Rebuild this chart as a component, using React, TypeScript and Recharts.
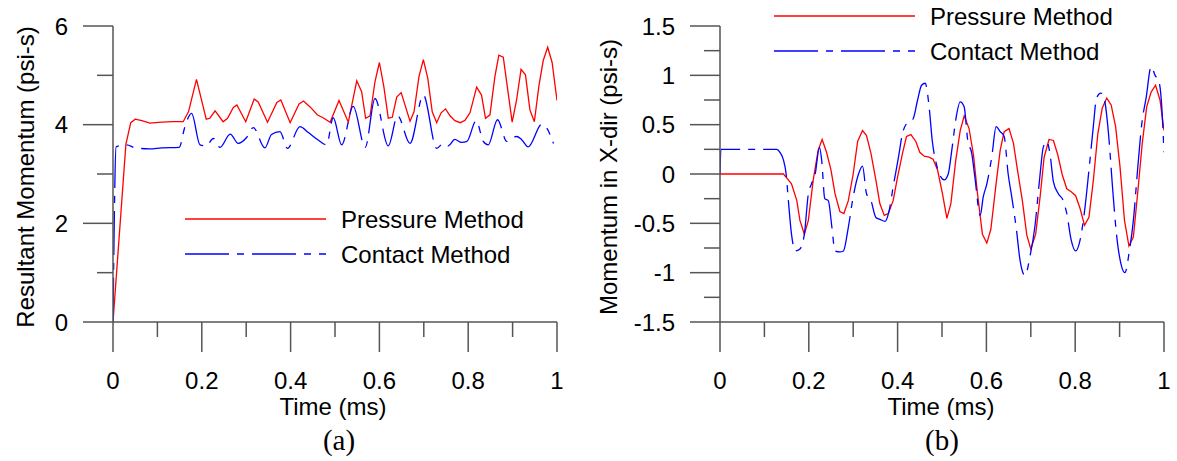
import React from "react";
import { LineChart, Line, XAxis, YAxis, Legend } from "recharts";

const FONT = "'Liberation Sans', Arial, sans-serif";
const SERIF = "'Liberation Serif', 'Times New Roman', serif";
const AXIS = "#555";
const RED = "#ff0000";
const BLUE = "#0000ff";
const DASH = "44 8 7 8";

// x ticks (ms), shared by both panels
const X_TICKS = [0, 0.1, 0.2, 0.3, 0.4, 0.5, 0.6, 0.7, 0.8, 0.9, 1];
const Y_TICKS_A = [0, 1, 2, 3, 4, 5, 6];
const Y_TICKS_B = [-1.5, -1.25, -1, -0.75, -0.5, -0.25, 0, 0.25, 0.5, 0.75, 1, 1.25, 1.5];
const SERIES_NAMES = ["Pressure Method", "Contact Method"];

// (a) resultant momentum, [t, value]
const pressureA: number[][] = [
  [0, 0], [0.029, 3.6], [0.04, 4.04], [0.05, 4.11], [0.065, 4.08], [0.083, 4.03], [0.11, 4.05], [0.135, 4.06],
  [0.158, 4.06], [0.17, 4.26], [0.188, 4.92], [0.21, 4.11], [0.218, 4.13], [0.23, 4.28], [0.248, 4.06],
  [0.258, 4.13], [0.271, 4.35], [0.279, 4.4], [0.299, 4.06], [0.318, 4.52], [0.327, 4.46], [0.348, 4.05],
  [0.369, 4.45], [0.378, 4.5], [0.399, 4.04], [0.419, 4.42], [0.429, 4.48], [0.444, 4.36], [0.46, 4.2],
  [0.475, 4.13], [0.489, 4.05], [0.509, 4.49], [0.53, 4.05], [0.549, 4.89], [0.56, 4.67], [0.569, 4.13],
  [0.579, 4.18], [0.59, 4.87], [0.6, 5.26], [0.61, 4.77], [0.62, 4.13], [0.629, 4.15], [0.639, 4.56],
  [0.649, 4.65], [0.669, 4.07], [0.678, 4.26], [0.689, 4.97], [0.699, 5.32], [0.709, 4.94], [0.719, 4.26],
  [0.729, 4.04], [0.739, 4.24], [0.749, 4.32], [0.759, 4.18], [0.77, 4.08], [0.782, 4.04], [0.793, 4.09],
  [0.804, 4.24], [0.819, 4.76], [0.83, 4.6], [0.839, 4.13], [0.849, 4.2], [0.86, 4.97], [0.869, 5.41],
  [0.879, 5.37], [0.899, 4.05], [0.909, 4.5], [0.919, 5.12], [0.929, 5.01], [0.939, 4.3], [0.949, 4.06],
  [0.959, 4.77], [0.969, 5.3], [0.979, 5.57], [0.989, 5.26], [1.0, 4.49],
];

const contactA: number[][] = [
  [0, 0], [0.007, 3.55], [0.031, 3.59], [0.05, 3.53], [0.083, 3.51], [0.11, 3.53], [0.149, 3.54], [0.162, 3.96],
  [0.177, 4.23], [0.196, 3.59], [0.21, 3.57], [0.226, 3.72], [0.241, 3.54], [0.264, 3.81], [0.282, 3.62],
  [0.301, 3.74], [0.316, 3.94], [0.342, 3.53], [0.357, 3.8], [0.376, 3.86], [0.393, 3.52], [0.421, 3.96],
  [0.44, 3.84], [0.462, 3.69], [0.481, 3.59], [0.496, 4.14], [0.515, 3.59], [0.541, 4.37], [0.568, 3.54],
  [0.59, 4.53], [0.62, 3.57], [0.641, 4.18], [0.669, 3.62], [0.699, 4.6], [0.729, 3.52], [0.744, 3.62],
  [0.755, 3.57], [0.77, 3.7], [0.785, 3.64], [0.797, 3.66], [0.818, 4.08], [0.834, 3.66], [0.845, 3.59],
  [0.866, 4.1], [0.887, 3.66], [0.897, 3.72], [0.909, 3.76], [0.92, 3.7], [0.935, 3.55], [0.966, 4.01],
  [0.977, 3.93], [0.992, 3.62],
];

// (b) momentum in x-dir
const pressureB: number[][] = [
  [0, 0], [0.143, 0], [0.154, -0.06], [0.161, -0.1], [0.173, -0.27], [0.18, -0.47], [0.19, -0.61], [0.199, -0.47],
  [0.21, -0.06], [0.221, 0.24], [0.23, 0.35], [0.24, 0.22], [0.25, 0.04], [0.259, -0.2], [0.27, -0.38],
  [0.279, -0.4], [0.289, -0.27], [0.3, 0.0], [0.31, 0.33], [0.321, 0.44], [0.33, 0.39], [0.34, 0.21],
  [0.351, -0.06], [0.36, -0.3], [0.37, -0.42], [0.379, -0.4], [0.39, -0.27], [0.4, -0.03], [0.411, 0.21],
  [0.42, 0.38], [0.43, 0.4], [0.441, 0.33], [0.45, 0.22], [0.46, 0.18], [0.471, 0.17], [0.48, 0.15],
  [0.49, 0.04], [0.501, -0.2], [0.511, -0.45], [0.52, -0.3], [0.531, 0.14], [0.541, 0.44], [0.55, 0.59],
  [0.561, 0.46], [0.571, 0.19], [0.58, -0.2], [0.591, -0.61], [0.601, -0.7], [0.61, -0.56], [0.621, -0.13],
  [0.631, 0.24], [0.64, 0.43], [0.651, 0.46], [0.661, 0.31], [0.67, 0.04], [0.681, -0.27], [0.691, -0.62],
  [0.7, -0.76], [0.711, -0.61], [0.721, -0.23], [0.73, 0.17], [0.741, 0.35], [0.751, 0.34], [0.761, 0.19],
  [0.771, -0.01], [0.781, -0.15], [0.791, -0.18], [0.801, -0.22], [0.811, -0.35], [0.821, -0.52],
  [0.831, -0.44], [0.841, -0.06], [0.851, 0.41], [0.861, 0.67], [0.871, 0.77], [0.881, 0.7], [0.891, 0.48],
  [0.901, 0.07], [0.911, -0.47], [0.921, -0.73], [0.931, -0.64], [0.941, -0.18], [0.951, 0.31], [0.961, 0.68],
  [0.971, 0.83], [0.981, 0.9], [0.991, 0.75], [1.0, 0.44],
];

const contactB: number[][] = [
  [0, 0], [0.002, 0.25], [0.128, 0.25], [0.135, 0.22], [0.143, 0.14], [0.149, 0], [0.154, -0.27], [0.161, -0.61],
  [0.17, -0.78], [0.18, -0.76], [0.19, -0.61], [0.199, -0.2], [0.206, -0.1], [0.214, -0.01], [0.224, 0.27],
  [0.229, 0.14], [0.236, -0.25], [0.244, -0.27], [0.252, -0.54], [0.259, -0.78], [0.27, -0.79], [0.278, -0.78],
  [0.289, -0.54], [0.3, -0.23], [0.312, 0.0], [0.321, 0.08], [0.33, -0.2], [0.34, -0.27], [0.351, -0.44],
  [0.36, -0.46], [0.372, -0.48], [0.381, -0.37], [0.39, -0.13], [0.402, 0.17], [0.411, 0.41], [0.42, 0.51],
  [0.435, 0.56], [0.445, 0.75], [0.454, 0.9], [0.462, 0.92], [0.471, 0.68], [0.478, 0.34], [0.488, 0.09],
  [0.495, -0.01], [0.505, -0.06], [0.514, 0.0], [0.522, 0.24], [0.531, 0.55], [0.541, 0.73], [0.55, 0.68],
  [0.558, 0.34], [0.567, 0.21], [0.574, -0.03], [0.586, -0.42], [0.593, -0.23], [0.601, -0.1], [0.612, 0.17],
  [0.622, 0.48], [0.631, 0.43], [0.64, 0.38], [0.649, 0.0], [0.657, -0.23], [0.667, -0.54], [0.676, -0.88],
  [0.687, -1.03], [0.698, -0.84], [0.709, -0.54], [0.721, 0.0], [0.728, 0.27], [0.736, 0.33], [0.743, 0.21],
  [0.751, -0.08], [0.762, -0.2], [0.773, -0.27], [0.781, -0.4], [0.791, -0.67], [0.801, -0.78], [0.811, -0.67],
  [0.822, -0.34], [0.831, 0.04], [0.841, 0.49], [0.848, 0.77], [0.858, 0.82], [0.866, 0.75], [0.875, 0.41],
  [0.884, -0.13], [0.893, -0.61], [0.903, -0.91], [0.912, -1.0], [0.922, -0.78], [0.931, -0.47], [0.941, 0.07],
  [0.95, 0.51], [0.96, 0.78], [0.971, 1.09], [0.98, 1.0], [0.989, 0.93], [0.995, 0.68], [1.0, 0.22],
];

const toRows = (pts: number[][]) => pts.map(([t, v]) => ({ t, v }));

const isMajor = (v: number, step: number) => Math.abs(v / step - Math.round(v / step)) < 1e-6;
const fmt = (v: number) => String(Math.round(v * 100) / 100);

const makeXTick = (step: number) => (props: any) => {
  const { x, y, payload } = props;
  const major = isMajor(payload.value, step);
  return (
    <g>
      <line x1={x} y1={y} x2={x} y2={y + (major ? 30 : 15)} stroke={AXIS} strokeWidth={1.5} />
      {major && (
        <text x={x} y={y + 67} textAnchor="middle" fontSize={24} fontFamily={FONT} fill="#000">
          {fmt(payload.value)}
        </text>
      )}
    </g>
  );
};

const makeYTick = (step: number) => (props: any) => {
  const { x, y, payload } = props;
  const major = isMajor(payload.value, step);
  return (
    <g>
      <line x1={x} y1={y} x2={x - (major ? 30 : 16)} y2={y} stroke={AXIS} strokeWidth={1.5} />
      {major && (
        <text x={x - 45} y={y} dy="0.36em" textAnchor="end" fontSize={24} fontFamily={FONT} fill="#000">
          {fmt(payload.value)}
        </text>
      )}
    </g>
  );
};

// legend keeps the original order: pressure first, contact second
const makeLegend = (y0: number) => (props: any) => {
  const items = [...(props.payload || [])].sort(
    (a: any, b: any) => SERIES_NAMES.indexOf(a.value) - SERIES_NAMES.indexOf(b.value)
  );
  return (
    <svg width={380} height={80} style={{ overflow: "visible", display: "block" }}>
      {items.map((it: any, i: number) => (
        <g key={it.value}>
          <line
            x1={0} x2={141} y1={y0 + i * 35} y2={y0 + i * 35}
            stroke={it.color} strokeWidth={1.5}
            strokeDasharray={it.color === BLUE ? DASH : undefined}
          />
          <text x={156} y={y0 + 9 + i * 35} fontSize={24} fontFamily={FONT} fill="#000">
            {it.value}
          </text>
        </g>
      ))}
    </svg>
  );
};

function Panel(props: {
  width: number; yWidth: number; right: number; domain: number[]; yTicks: number[]; yStep: number;
  red: number[][]; blue: number[][]; legendLeft: number; legendTop: number; legendY0: number;
}) {
  const p = props;
  return (
    <LineChart width={p.width} height={461} margin={{ top: 26, right: p.right, bottom: 0, left: 0 }}>
      <XAxis
        type="number" dataKey="t" domain={[0, 1]} ticks={X_TICKS} interval={0}
        height={139} tickSize={0} tickMargin={0} tickLine={false}
        axisLine={{ stroke: AXIS, strokeWidth: 1.5 }} tick={makeXTick(0.2)} allowDataOverflow
      />
      <YAxis
        type="number" domain={p.domain} ticks={p.yTicks} interval={0}
        width={p.yWidth} tickSize={0} tickMargin={0} tickLine={false}
        axisLine={{ stroke: AXIS, strokeWidth: 1.5 }} tick={makeYTick(p.yStep)} allowDataOverflow
      />
      <Legend
        layout="horizontal" verticalAlign="middle" align="center"
        content={makeLegend(p.legendY0)}
        wrapperStyle={{ left: p.legendLeft, top: p.legendTop, width: 380, height: 80 }}
      />
      <Line
        data={toRows(p.red)} dataKey="v" name={SERIES_NAMES[0]} type="linear"
        stroke={RED} strokeWidth={1.3} dot={false} activeDot={false} isAnimationActive={false}
      />
      <Line
        data={toRows(p.blue)} dataKey="v" name={SERIES_NAMES[1]} type="monotone"
        stroke={BLUE} strokeWidth={1.3} strokeDasharray={DASH} dot={false} activeDot={false}
        isAnimationActive={false}
      />
    </LineChart>
  );
}

export default function App() {
  return (
    <div style={{ position: "absolute", left: 0, top: 0, width: 1177, height: 461, background: "#fff" }}>
      <div style={{ position: "absolute", left: 0, top: 0 }}>
        <Panel
          width={580} yWidth={113} right={23} domain={[0, 6]} yTicks={Y_TICKS_A} yStep={2}
          red={pressureA} blue={contactA} legendLeft={185} legendTop={200} legendY0={19}
        />
      </div>
      <div style={{ position: "absolute", left: 580, top: 0 }}>
        <Panel
          width={597} yWidth={140} right={13} domain={[-1.5, 1.5]} yTicks={Y_TICKS_B} yStep={0.5}
          red={pressureB} blue={contactB} legendLeft={194} legendTop={0} legendY0={16}
        />
      </div>
      <svg width={1177} height={461} style={{ position: "absolute", left: 0, top: 0, pointerEvents: "none" }}>
        <text x={25} y={177} transform="rotate(-90 25 177)" textAnchor="middle" dominantBaseline="central"
          fontSize={24} fontFamily={FONT}>Resultant Momentum (psi-s)</text>
        <text x={608} y={177} transform="rotate(-90 608 177)" textAnchor="middle" dominantBaseline="central"
          fontSize={24} fontFamily={FONT}>Momentum in X-dir (psi-s)</text>
        <text x={333} y={415} textAnchor="middle" fontSize={24} fontFamily={FONT}>Time (ms)</text>
        <text x={941} y={415} textAnchor="middle" fontSize={24} fontFamily={FONT}>Time (ms)</text>
        <text x={339} y={450} textAnchor="middle" fontSize={29} fontFamily={SERIF}>(a)</text>
        <text x={942} y={450} textAnchor="middle" fontSize={29} fontFamily={SERIF}>(b)</text>
      </svg>
    </div>
  );
}
